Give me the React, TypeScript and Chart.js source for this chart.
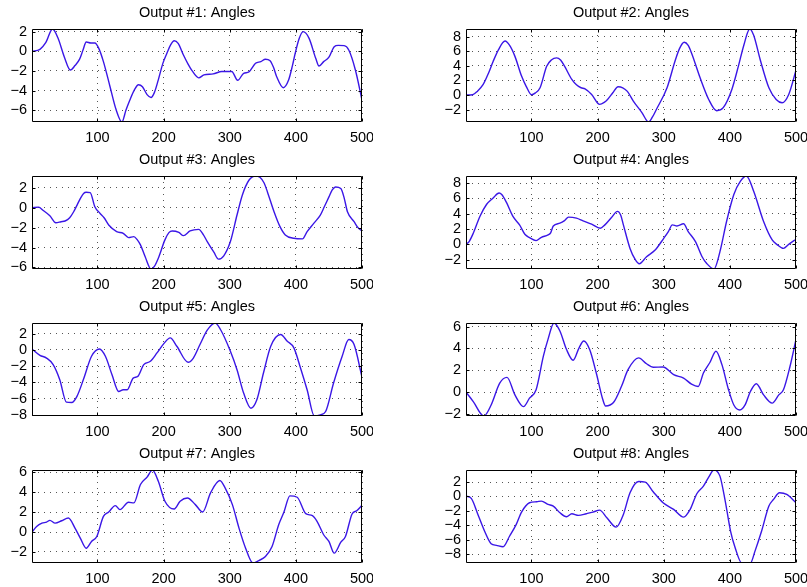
import React, { useEffect, useRef } from "react";
import { Chart, registerables } from "chart.js";

Chart.register(...registerables);

type Pt = [number, number];

// ---- sample index axis ----
const X_MIN = 1;
const X_MAX = 500;
const xTicks = [100, 200, 300, 400, 500];

// ---- angle traces, [sample, angle] ----
const out1: Pt[] = [
  [1, 0], [13, 0.2], [22, 0.9], [32, 2.27], [40, 1.4], [50, -0.6], [59, -1.9], [66, -1.45],
  [73, -0.8], [78, 0.1], [83, 0.95], [90, 0.85], [96, 0.85], [102, 0.3], [109, -1.05],
  [119, -3.6], [128, -5.9], [137, -7.19], [143, -6.0], [149, -4.95], [156, -3.9], [162, -3.4],
  [168, -3.6], [175, -4.4], [181, -4.7], [186, -4.2], [192, -2.9], [199, -1.2], [205, -0.2],
  [211, 0.7], [216, 1.08], [222, 0.8], [230, -0.37], [237, -1.3], [243, -1.97], [253, -2.7],
  [261, -2.4], [275, -2.3], [288, -2.05], [303, -2.05], [312, -2.95], [321, -2.24], [329, -2.1],
  [339, -1.22], [347, -1.05], [354, -0.8], [361, -0.95], [366, -1.6], [371, -2.58], [381, -3.7],
  [389, -2.92], [395, -1.4], [399, -0.2], [405, 1.3], [411, 2.0], [420, 1.32], [430, -0.71],
  [435, -1.5], [442, -1.05], [450, -0.6], [458, 0.47], [464, 0.6], [473, 0.58], [480, 0.13],
  [490, -1.9], [500, -4.95],
];

const out2: Pt[] = [
  [1, 0], [11, 0.05], [18, 0.5], [27, 1.45], [35, 3.0], [42, 4.6], [50, 6.2], [60, 7.4],
  [67, 6.8], [75, 5.3], [85, 2.6], [92, 1.2], [100, 0.05], [106, 0.3], [113, 1.0], [123, 3.95],
  [130, 4.8], [138, 5.1], [144, 4.8], [150, 3.95], [161, 2.14], [168, 1.4], [175, 1.0],
  [181, 0.86], [191, 0.09], [203, -1.27], [210, -1.0], [215, -0.6], [223, 0.32], [231, 1.14],
  [238, 1.0], [245, 0.5], [254, -0.82], [267, -2.4], [277, -3.69], [283, -3.0], [289, -1.95],
  [305, 1.0], [317, 4.64], [324, 6.4], [331, 7.23], [337, 6.8], [342, 5.77], [355, 2.36],
  [368, -0.6], [380, -2.14], [390, -1.73], [403, 0.77], [413, 4.0], [421, 6.8], [430, 9.05],
  [436, 8.2], [446, 4.8], [459, 1.0], [470, -0.6], [479, -1.05], [489, 0.09], [500, 3.4],
];

const out3: Pt[] = [
  [1, 0], [11, 0.07], [18, -0.27], [28, -0.8], [37, -1.5], [45, -1.4], [51, -1.33], [58, -1.0],
  [64, -0.4], [70, 0.4], [74, 0.93], [79, 1.45], [83, 1.57], [89, 1.53], [96, 0.1], [104, -0.57],
  [110, -1.0], [117, -1.73], [129, -2.4], [139, -2.57], [147, -3.0], [155, -2.9], [160, -3.2],
  [165, -3.73], [172, -4.9], [181, -6.16], [186, -5.9], [192, -5.07], [202, -3.23], [208, -2.5],
  [213, -2.33], [223, -2.47], [230, -2.8], [240, -2.33], [253, -2.17], [260, -2.7], [266, -3.4],
  [276, -4.47], [283, -5.17], [291, -4.83], [301, -3.4], [311, -0.73], [319, 1.27], [329, 2.77],
  [339, 3.2], [346, 3.05], [352, 2.5], [357, 1.6], [367, -0.4], [376, -1.9], [384, -2.73],
  [397, -3.07], [410, -3.13], [417, -2.4], [427, -1.57], [437, -0.73], [443, 0.1], [450, 1.1],
  [455, 1.8], [460, 2.1], [468, 1.93], [473, 1.0], [478, -0.4], [488, -1.4], [494, -2.0],
  [500, -2.33],
];

const out4: Pt[] = [
  [1, 0], [6, 0.4], [12, 1.45], [22, 3.64], [32, 5.2], [42, 6.05], [51, 6.7], [55, 6.5],
  [62, 5.5], [72, 3.64], [82, 2.54], [90, 1.32], [97, 0.88], [107, 0.48], [115, 0.92],
  [125, 1.23], [129, 1.5], [133, 2.4], [143, 2.76], [150, 3.1], [156, 3.55], [168, 3.42],
  [178, 3.07], [191, 2.63], [204, 2.1], [211, 2.54], [221, 3.5], [230, 4.3], [235, 3.8],
  [239, 2.54], [249, -0.53], [257, -2.0], [263, -2.54], [274, -1.62], [287, -0.75], [300, 0.79],
  [307, 1.67], [313, 2.54], [320, 2.4], [330, 2.68], [337, 1.67], [348, 0.35], [358, -1.62],
  [365, -2.5], [376, -3.22], [385, -0.96], [395, 2.98], [406, 6.5], [416, 8.25], [425, 8.92],
  [436, 6.93], [451, 2.98], [464, 0.57], [471, 0], [481, -0.53], [489, 0], [500, 0.66],
];

const out5: Pt[] = [
  [1, 0.12], [13, -0.66], [23, -1.0], [33, -1.8], [43, -3.66], [53, -6.42], [61, -6.46],
  [69, -5.7], [79, -3.58], [91, -0.78], [103, 0.12], [112, -0.78], [122, -3.05], [132, -5.1],
  [139, -4.9], [145, -4.9], [154, -3.46], [161, -3.25], [170, -1.8], [180, -1.4], [190, -0.37],
  [200, 0.74], [210, 1.48], [220, 0.45], [237, -1.52], [245, -1.0], [255, 0.66], [266, 2.43],
  [278, 3.31], [286, 2.51], [301, -0.16], [311, -2.43], [321, -5.3], [332, -7.16], [341, -6.13],
  [351, -2.84], [362, 0.45], [377, 1.89], [387, 1.07], [397, 0.25], [407, -2.22], [417, -4.9],
  [428, -8.12], [437, -7.98], [445, -7.57], [457, -4.07], [470, -0.78], [480, 1.28], [488, 0.66],
  [500, -3.33],
];

const out6: Pt[] = [
  [1, 0], [12, -0.86], [28, -2.18], [39, -1.17], [52, 0.83], [63, 1.35], [75, -0.25],
  [88, -1.32], [97, -0.55], [107, 0.22], [118, 3.3], [125, 4.83], [134, 6.33], [143, 5.6],
  [153, 3.9], [163, 2.92], [172, 4.06], [179, 4.68], [188, 3.9], [198, 1.75], [208, -0.7],
  [212, -1.26], [224, -0.95], [236, 0.52], [246, 2.06], [262, 3.14], [274, 2.6], [284, 2.28],
  [299, 2.31], [315, 1.6], [330, 1.29], [342, 0.74], [352, 0.52], [360, 1.75], [370, 2.74],
  [379, 3.75], [388, 2.52], [398, 0.22], [406, -1.17], [415, -1.63], [423, -1.17], [431, 0.06],
  [440, 0.77], [451, -0.25], [464, -1.0], [474, -0.25], [481, 0.22], [491, 2.37], [500, 4.83],
];

const out7: Pt[] = [
  [1, 0], [8, 0.57], [16, 0.9], [23, 1.0], [28, 1.18], [36, 0.9], [46, 1.14], [56, 1.41],
  [66, 0.4], [74, -0.6], [83, -1.62], [91, -0.94], [99, -0.44], [109, 1.58], [117, 2.02],
  [127, 2.66], [134, 2.26], [147, 3.0], [155, 2.93], [165, 4.78], [175, 5.52], [183, 6.24],
  [192, 5.12], [202, 3.1], [216, 2.32], [225, 3.1], [236, 3.43], [248, 2.76], [259, 2.02],
  [271, 3.94], [285, 5.18], [293, 4.44], [304, 2.76], [314, 0.4], [324, -1.62], [335, -3.11],
  [344, -2.86], [354, -2.46], [364, -1.45], [374, 0.74], [382, 2.02], [391, 3.64], [402, 3.5],
  [415, 1.85], [425, 1.65], [432, 1.08], [442, -0.27], [450, -0.94], [458, -2.12], [468, -1.01],
  [475, -0.44], [485, 1.82], [492, 2.15], [500, 2.69],
];

const out8: Pt[] = [
  [1, 0.05], [9, -0.28], [19, -2.5], [29, -4.8], [39, -6.57], [47, -6.8], [57, -6.99],
  [67, -5.5], [77, -3.89], [85, -2.18], [97, -0.88], [108, -0.74], [115, -0.65], [125, -1.11],
  [133, -1.34], [143, -2.27], [153, -2.82], [161, -2.4], [171, -2.64], [183, -2.4], [193, -2.18],
  [203, -1.9], [214, -2.96], [228, -4.26], [239, -2.5], [249, 0.51], [262, 2.08], [272, 1.99],
  [284, 0.65], [299, -0.88], [315, -1.8], [330, -2.87], [340, -1.8], [350, 0.37], [360, 1.44],
  [368, 2.69], [376, 3.67], [385, 2.82], [393, -0.65], [401, -4.81], [408, -7.13], [418, -9.25],
  [431, -9.25], [438, -7.6], [448, -4.81], [459, -1.34], [466, -0.42], [475, 0.51], [486, 0.28],
  [500, -0.88],
];

// ---- tight y limits and tick labels per panel ----
const yRange1 = [-7.19, 2.27];
const yRange2 = [-3.69, 9.05];
const yRange3 = [-6.16, 3.2];
const yRange4 = [-3.22, 8.92];
const yRange5 = [-8.12, 3.31];
const yRange6 = [-2.18, 6.33];
const yRange7 = [-3.11, 6.24];
const yRange8 = [-9.25, 3.67];

const yTicks1 = [-6, -4, -2, 0, 2];
const yTicks2 = [-2, 0, 2, 4, 6, 8];
const yTicks3 = [-6, -4, -2, 0, 2];
const yTicks4 = [-2, 0, 2, 4, 6, 8];
const yTicks5 = [-8, -6, -4, -2, 0, 2];
const yTicks6 = [-2, 0, 2, 4, 6];
const yTicks7 = [-2, 0, 2, 4, 6];
const yTicks8 = [-8, -6, -4, -2, 0, 2];

const titles = [
  "Output #1: Angles", "Output #2: Angles", "Output #3: Angles", "Output #4: Angles",
  "Output #5: Angles", "Output #6: Angles", "Output #7: Angles", "Output #8: Angles",
];

const panels = [
  { title: titles[0], data: out1, range: yRange1, ticks: yTicks1 },
  { title: titles[1], data: out2, range: yRange2, ticks: yTicks2 },
  { title: titles[2], data: out3, range: yRange3, ticks: yTicks3 },
  { title: titles[3], data: out4, range: yRange4, ticks: yTicks4 },
  { title: titles[4], data: out5, range: yRange5, ticks: yTicks5 },
  { title: titles[5], data: out6, range: yRange6, ticks: yTicks6 },
  { title: titles[6], data: out7, range: yRange7, ticks: yTicks7 },
  { title: titles[7], data: out8, range: yRange8, ticks: yTicks8 },
];

// ---- page layout (plot boxes) ----
const COL_LEFT = [32, 466];
const ROW_TOP = [29, 176, 323, 470];
const BOX_W = 330;
const BOX_H = 93;
const Y_AXIS_W = 32;
const TITLE_H = 29;
const X_AXIS_H = 24;
const RIGHT_PAD = 11;

const FONT = "'Liberation Sans', Arial, Helvetica, sans-serif";
const LINE_COLOR = "#3a16e6";

const fmt = (v: number) => (v < 0 ? "\u2212" + Math.abs(v) : String(v));

// Closed axes box with inward tick marks on all four sides
const boxFrame = {
  id: "boxFrame",
  afterDraw(chart: any) {
    const { ctx, chartArea: a, scales } = chart;
    const xs = scales.x;
    const ys = scales.y;
    const L = Math.round(a.left) + 0.5;
    const R = Math.round(a.right) - 0.5;
    const T = Math.round(a.top) + 0.5;
    const B = Math.round(a.bottom) - 0.5;
    const len = 3;
    ctx.save();
    ctx.strokeStyle = "#000";
    ctx.lineWidth = 1;
    ctx.beginPath();
    ctx.rect(L, T, R - L, B - T);
    for (const t of xs.ticks) {
      const px = Math.round(xs.getPixelForValue(t.value)) + 0.5;
      ctx.moveTo(px, B);
      ctx.lineTo(px, B - len);
      ctx.moveTo(px, T);
      ctx.lineTo(px, T + len);
    }
    for (const t of ys.ticks) {
      const py = Math.round(ys.getPixelForValue(t.value)) + 0.5;
      ctx.moveTo(L, py);
      ctx.lineTo(L + len, py);
      ctx.moveTo(R, py);
      ctx.lineTo(R - len, py);
    }
    ctx.stroke();
    ctx.restore();
  },
};

type PanelProps = {
  title: string;
  data: Pt[];
  range: number[];
  ticks: number[];
  left: number;
  top: number;
};

function Panel({ title, data, range, ticks, left, top }: PanelProps) {
  const ref = useRef<HTMLCanvasElement | null>(null);
  const width = Y_AXIS_W + BOX_W + RIGHT_PAD;
  const height = TITLE_H + BOX_H + X_AXIS_H;

  useEffect(() => {
    if (!ref.current) return;
    const chart = new Chart(ref.current, {
      type: "line",
      data: {
        datasets: [
          {
            data: data.map(([x, y]) => ({ x, y })),
            borderColor: LINE_COLOR,
            borderWidth: 1.4,
            pointRadius: 0,
            fill: false,
            cubicInterpolationMode: "monotone",
          },
        ],
      },
      options: {
        animation: false,
        responsive: false,
        maintainAspectRatio: false,
        devicePixelRatio: 1,
        layout: { padding: { left: 0, right: RIGHT_PAD, top: 0, bottom: 0 } },
        plugins: {
          legend: { display: false },
          tooltip: { enabled: false },
          title: {
            display: true,
            text: title,
            fullSize: false,
            color: "#000",
            font: { family: FONT, size: 14.5, weight: "normal", lineHeight: "16px" },
            padding: { top: 5, bottom: 8 },
          },
        },
        scales: {
          x: {
            type: "linear",
            min: X_MIN,
            max: X_MAX,
            afterBuildTicks: (s: any) => {
              s.ticks = xTicks.map((v) => ({ value: v }));
            },
            afterFit: (s: any) => {
              s.height = X_AXIS_H;
              s.paddingLeft = 0;
              s.paddingRight = 0;
            },
            ticks: {
              autoSkip: false,
              maxRotation: 0,
              padding: 7,
              color: "#000",
              font: { family: FONT, size: 14.5 },
              callback: (v: any) => fmt(Number(v)),
            },
            grid: { color: "#555", lineWidth: 1, drawTicks: false },
            border: { display: false, dash: [1, 5] },
          },
          y: {
            type: "linear",
            min: range[0],
            max: range[1],
            afterBuildTicks: (s: any) => {
              s.ticks = ticks.map((v) => ({ value: v }));
            },
            afterFit: (s: any) => {
              s.width = Y_AXIS_W;
              s.paddingTop = 0;
              s.paddingBottom = 0;
            },
            ticks: {
              autoSkip: false,
              padding: 5,
              color: "#000",
              font: { family: FONT, size: 14.5 },
              callback: (v: any) => fmt(Number(v)),
            },
            grid: { color: "#555", lineWidth: 1, drawTicks: false },
            border: { display: false, dash: [1, 5] },
          },
        },
      } as any,
      plugins: [boxFrame],
    });
    return () => chart.destroy();
  }, [title, data, range, ticks]);

  return (
    <canvas
      ref={ref}
      width={width}
      height={height}
      style={{ position: "absolute", left, top, width, height }}
    />
  );
}

export default function App() {
  return (
    <div
      style={{
        position: "absolute",
        left: 0,
        top: 0,
        width: 807,
        height: 587,
        background: "#fff",
        overflow: "hidden",
      }}
    >
      {panels.map((p, i) => {
        const col = i % 2;
        const row = Math.floor(i / 2);
        return (
          <Panel
            key={p.title}
            title={p.title}
            data={p.data}
            range={p.range}
            ticks={p.ticks}
            left={COL_LEFT[col] - Y_AXIS_W}
            top={ROW_TOP[row] - TITLE_H}
          />
        );
      })}
    </div>
  );
}
